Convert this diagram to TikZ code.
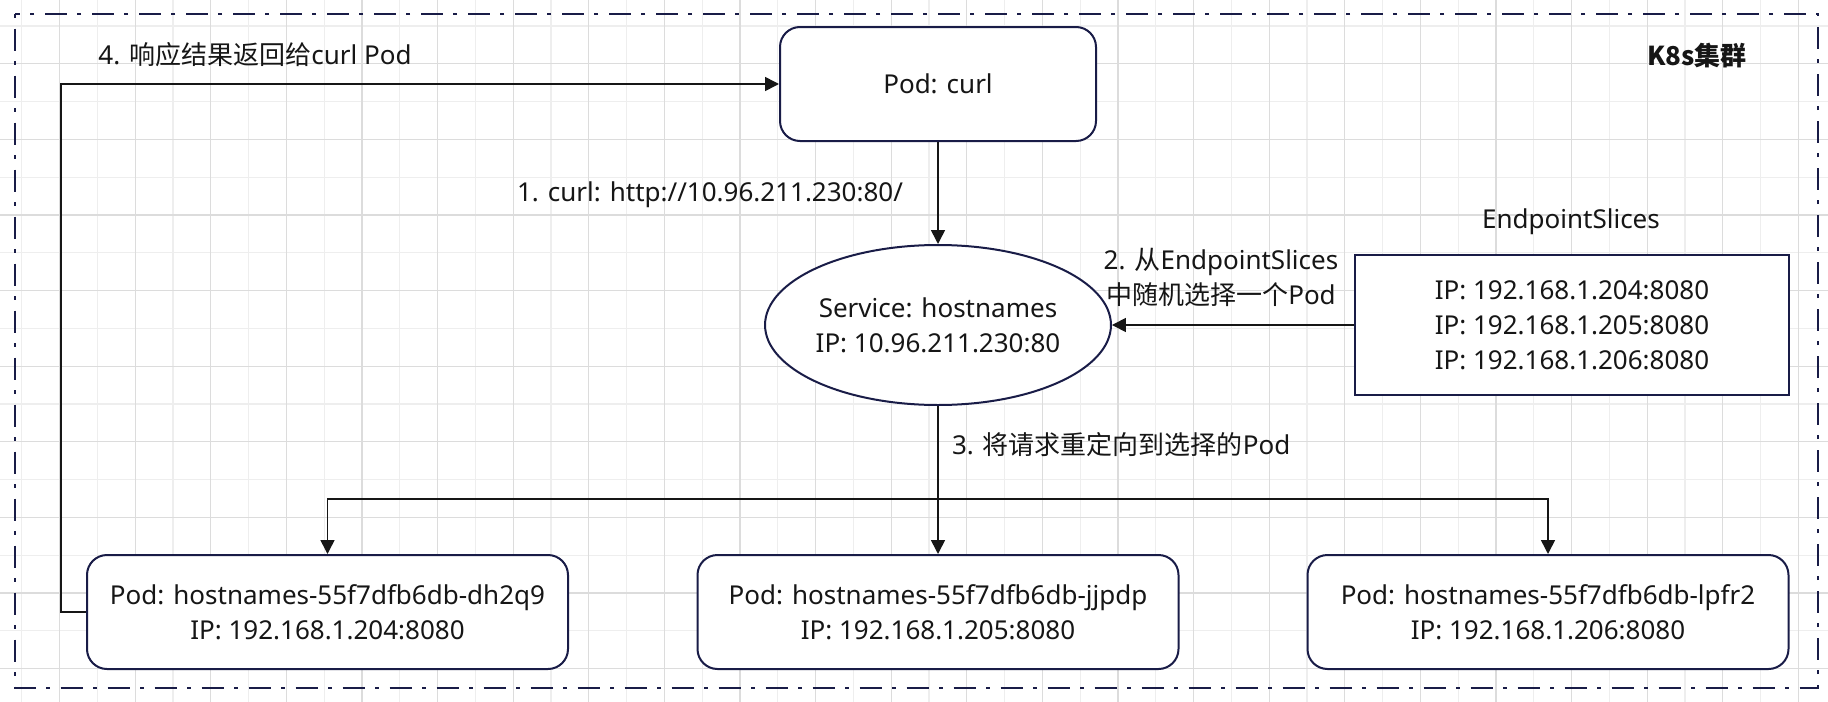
\documentclass[tikz,border=0pt]{standalone}
\usepackage{fontspec}
\usepackage{tikz}
\usetikzlibrary{shapes.geometric,arrows.meta}
\setmainfont{Noto Sans}
\newfontfamily\zhfont{Noto Sans CJK SC}
\newcommand{\zh}[1]{{\zhfont #1}}
\definecolor{edge}{HTML}{191C47}
\definecolor{ink}{HTML}{161616}
\definecolor{gridlight}{HTML}{EEEEEE}
\definecolor{griddark}{HTML}{DCDCDC}

\tikzset{
  podbox/.style={draw=edge, line width=1pt, fill=white, rounded corners=10pt,
    minimum width=240.5pt, minimum height=57pt, align=center},
  conn/.style={draw=ink, line width=0.8pt, -{Triangle[length=7pt,width=7pt]}},
}

\begin{document}
\begin{tikzpicture}[x=0.5pt, y=-0.5pt, font=\fontsize{13}{17.5}\selectfont, text=ink]
\useasboundingbox (0,0) rectangle (1828,702);
\fill[white] (0,0) rectangle (1828,702);
% grid
\foreach \i in {0,...,47}
  \draw[gridlight, line width=0.6pt] (21.7+37.8*\i,0) -- (21.7+37.8*\i,702);
\foreach \i in {0,...,17}
  \draw[gridlight, line width=0.6pt] (0,26+37.8*\i) -- (1828,26+37.8*\i);
\foreach \i in {0,...,23}
  \draw[griddark, line width=0.6pt] (59.5+75.6*\i,0) -- (59.5+75.6*\i,702);
\foreach \i in {0,...,8}
  \draw[griddark, line width=0.6pt] (0,63.8+75.6*\i) -- (1828,63.8+75.6*\i);

% cluster frame
\draw[edge, line width=1pt, dash pattern=on 2pt off 5.25pt on 11pt off 5.25pt]
  (15,14) rectangle (1818,688);
\node[font=\fontsize{13}{17.5}\selectfont\bfseries] (k8s) at (1697,56) {\zh{K8s集群}};

% pods and service
\node[podbox, minimum width=158pt] (curl) at (938,84) {Pod: curl};
\node[ellipse, draw=edge, line width=1pt, fill=white, minimum width=159pt,
  minimum height=80pt, inner sep=0pt, align=center] (svc) at (938,325)
  {Service: hostnames\\IP: 10.96.211.230:80};
\node[draw=edge, line width=1pt, fill=white, minimum width=217pt,
  minimum height=70pt, align=center] (eps) at (1572,325)
  {IP: 192.168.1.204:8080\\IP: 192.168.1.205:8080\\IP: 192.168.1.206:8080};
\node (epstitle) at (1571,222) {EndpointSlices};
\node[podbox] (pod1) at (327.5,612) {Pod: hostnames-55f7dfb6db-dh2q9\\IP: 192.168.1.204:8080};
\node[podbox] (pod2) at (938,612) {Pod: hostnames-55f7dfb6db-jjpdp\\IP: 192.168.1.205:8080};
\node[podbox] (pod3) at (1548,612) {Pod: hostnames-55f7dfb6db-lpfr2\\IP: 192.168.1.206:8080};

% step labels
\node (step1) at (710,195) {1. curl: http://10.96.211.230:80/};
\node[align=center] (step2) at (1221,277) {2. \zh{从}EndpointSlices\\\zh{中随机选择一个}Pod};
\node[anchor=west] (step3) at (945,445) {3. \zh{将请求重定向到选择的}Pod};
\node (step4) at (255,55) {4. \zh{响应结果返回给}curl Pod};

% connectors
\coordinate (split) at (938,499);
\coordinate (back) at (61,612);
\draw[conn] (curl) -- (svc);
\draw[conn] (eps) -- (svc);
\draw[conn] (svc) -- (pod2);
\draw[conn] (split) -| (pod1.north);
\draw[conn] (split) -| (pod3.north);
\draw[conn] (pod1.west) -- (back) |- (curl.west);
\end{tikzpicture}
\end{document}
